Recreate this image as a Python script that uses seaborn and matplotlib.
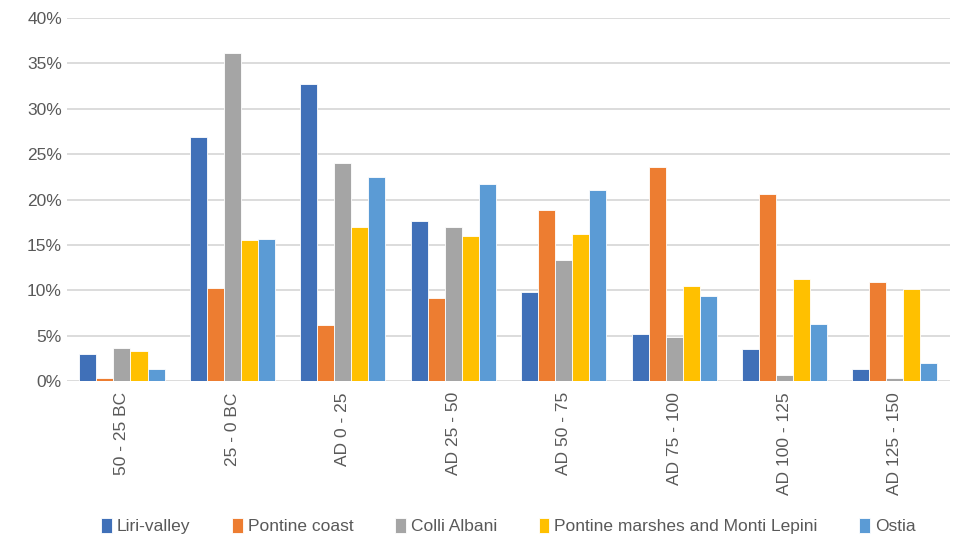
import numpy as np
import pandas as pd
import matplotlib
matplotlib.use("Agg")
import matplotlib.pyplot as plt
import seaborn as sns
from matplotlib.ticker import PercentFormatter

periods = ['50 - 25 BC', '25 - 0 BC', 'AD 0 - 25', 'AD 25 - 50',
           'AD 50 - 75', 'AD 75 - 100', 'AD 100 - 125', 'AD 125 - 150']
series = ['Liri-valley', 'Pontine coast', 'Colli Albani',
          'Pontine marshes and Monti Lepini', 'Ostia']

liri_valley = [3.0, 26.9, 32.7, 17.6, 9.8, 5.2, 3.5, 1.3]
pontine_coast = [0.3, 10.3, 6.2, 9.2, 18.9, 23.6, 20.6, 10.9]
colli_albani = [3.7, 36.1, 24.0, 17.0, 13.3, 4.9, 0.7, 0.3]
pontine_marshes = [3.3, 15.5, 17.0, 16.0, 16.2, 10.5, 11.3, 10.1]
ostia = [1.3, 15.7, 22.5, 21.7, 21.0, 9.4, 6.3, 2.0]

colors = ['#4070B8', '#ED7D31', '#A5A5A5', '#FFC000', '#5B9BD5']

df = pd.DataFrame({
    'period': periods * 5,
    'site': np.repeat(series, len(periods)),
    'share': liri_valley + pontine_coast + colli_albani + pontine_marshes + ostia,
})

sns.set_style('white')
plt.rcParams['font.family'] = ['Liberation Sans', 'DejaVu Sans']

fig = plt.figure(figsize=(9.54, 5.46), dpi=100)
ax = fig.add_axes([0.070, 0.302, 0.926, 0.665])

sns.barplot(data=df, x='period', y='share', hue='site', order=periods,
            hue_order=series, palette=colors, width=0.77, saturation=1,
            edgecolor='white', linewidth=0.6, ax=ax, legend=True)

ax.set_ylim(0, 40)
ax.set_yticks(np.arange(0, 41, 5))
ax.yaxis.set_major_formatter(PercentFormatter(decimals=0))
ax.grid(axis='y', color='#D9D9D9', linewidth=1.3)
ax.set_axisbelow(True)
for s in ['top', 'right', 'left', 'bottom']:
    ax.spines[s].set_visible(False)
ax.set_xlabel('')
ax.set_ylabel('')
ax.tick_params(axis='both', length=0, labelsize=12.5, labelcolor='#595959')
ax.tick_params(axis='x', pad=8)
plt.setp(ax.get_xticklabels(), rotation=90)
ax.set_xlim(-0.5, len(periods) - 0.5)

ax.legend(loc='center', bbox_to_anchor=(0.5, -0.40), ncol=5,
          frameon=False, fontsize=12.5, handlelength=0.6, handleheight=0.9,
          handletextpad=0.3, columnspacing=2.4, labelcolor='#595959')

fig.savefig('out.png', dpi=100)
